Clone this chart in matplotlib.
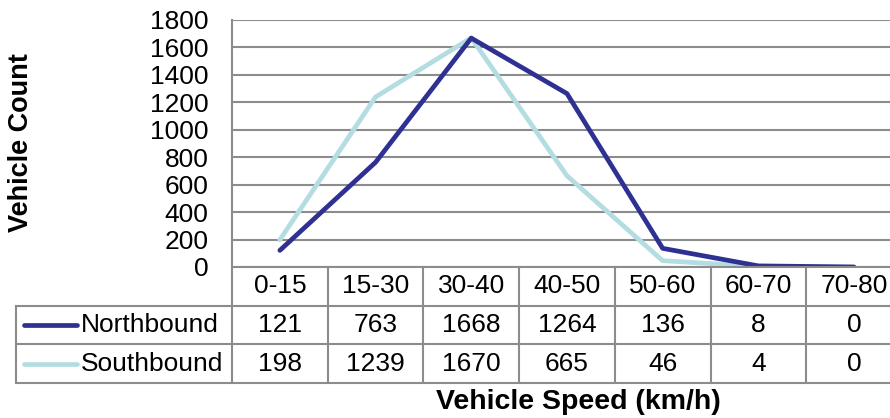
import matplotlib.pyplot as plt

plt.rcParams['font.family'] = ['Liberation Sans', 'DejaVu Sans']

# data
speed_bins = ['0-15', '15-30', '30-40', '40-50', '50-60', '60-70', '70-80']
northbound = [121, 763, 1668, 1264, 136, 8, 0]
southbound = [198, 1239, 1670, 665, 46, 4, 0]
series_names = ['Northbound', 'Southbound']
series_colors = ['#2E3192', '#B3DDE0']
y_ticks = [0, 200, 400, 600, 800, 1000, 1200, 1400, 1600, 1800]

W, H = 890, 418
grid_col = '#8C8C8C'
fs = 19


def px(x0, y0, x1, y1):
    # pixel box -> figure fraction rect
    return [x0 / W, 1 - y1 / H, (x1 - x0) / W, (y1 - y0) / H]


fig = plt.figure(figsize=(W / 100, H / 100), dpi=100)

col_w = 95.7
left_px = 232
right_px = left_px + 7 * col_w

# ---- line chart
ax = fig.add_axes(px(left_px, 20, right_px, 267))
xs = range(len(speed_bins))
ax.plot(xs, southbound, color=series_colors[1], lw=3.4, solid_capstyle='round', solid_joinstyle='round', zorder=3)
ax.plot(xs, northbound, color=series_colors[0], lw=3.4, solid_capstyle='round', solid_joinstyle='round', zorder=4)
ax.set_xlim(-0.5, len(speed_bins) - 0.5)
ax.set_ylim(0, 1800)
ax.set_yticks(y_ticks)
ax.set_xticks([])
ax.tick_params(axis='y', length=0, labelsize=fs, pad=17)
ax.grid(axis='y', color=grid_col, lw=1.5)
ax.set_axisbelow(True)
for s in ['top', 'right', 'bottom']:
    ax.spines[s].set_visible(False)
ax.spines['left'].set_color(grid_col)
ax.spines['left'].set_linewidth(1.5)
ax.patch.set_alpha(0)

fig.text(21 / W, 1 - 143 / H, 'Vehicle Count', rotation=90, ha='center', va='center',
         fontsize=19.5, fontweight='bold')
fig.text(578 / W, 1 - 402 / H, 'Vehicle Speed (km/h)', ha='center', va='center',
         fontsize=20.5, fontweight='bold')

# ---- data table below
tab_left = 16
tx0 = -0.5 - (left_px - tab_left) / col_w
tx1 = len(speed_bins) - 0.5
tb = fig.add_axes(px(tab_left, 267, right_px, 383))
tb.set_xlim(tx0, tx1)
tb.set_ylim(3, 0)
tb.axis('off')

lkw = dict(color=grid_col, lw=1.5, clip_on=False)
tb.plot([-0.5, tx1], [0, 0], **lkw)
for yy in [1, 2, 3]:
    tb.plot([tx0, tx1], [yy, yy], **lkw)
tb.plot([tx0, tx0], [1, 3], **lkw)
for k in range(len(speed_bins) + 1):
    tb.plot([k - 0.5, k - 0.5], [0, 3], **lkw)

for i, lab in enumerate(speed_bins):
    tb.text(i, 0.5, lab, ha='center', va='center', fontsize=fs)

key_a = -0.5 - (left_px - 24) / col_w
key_b = -0.5 - (left_px - 77) / col_w
txt_x = -0.5 - (left_px - 81) / col_w
for r, (name, vals, c) in enumerate(zip(series_names, [northbound, southbound], series_colors)):
    yc = r + 1.5
    tb.plot([key_a, key_b], [yc, yc], color=c, lw=3.4, solid_capstyle='round')
    tb.text(txt_x, yc, name, ha='left', va='center', fontsize=fs)
    for i, v in enumerate(vals):
        tb.text(i, yc, str(v), ha='center', va='center', fontsize=fs)

fig.savefig('out.png', dpi=100)
